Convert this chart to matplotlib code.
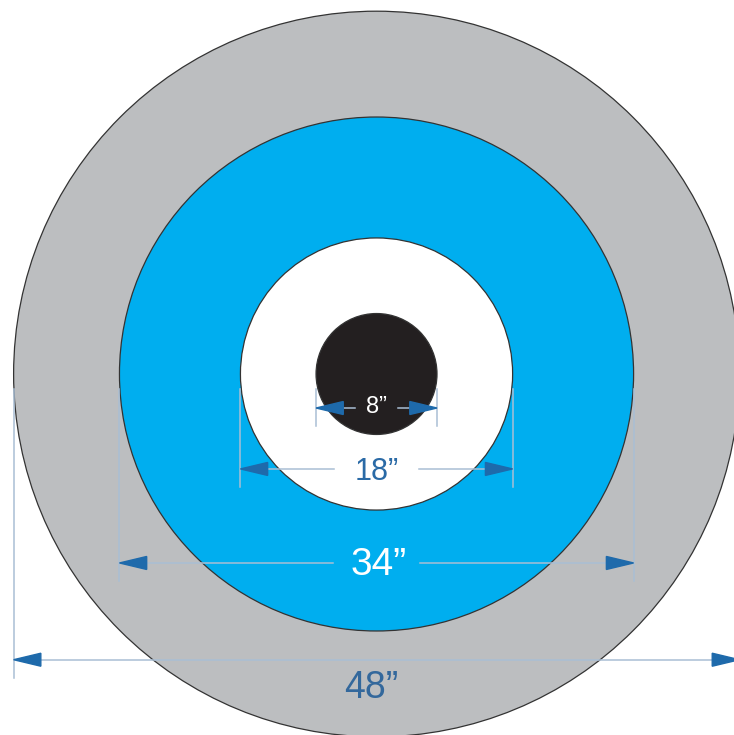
import matplotlib.pyplot as plt
from matplotlib.patches import Circle, Polygon

plt.rcParams['font.family'] = ['Liberation Sans', 'DejaVu Sans']

# ring diameters in inches, outer to inner
diameters = [48, 34, 18, 8]
fill_colors = ['#bcbec0', '#00aeef', '#ffffff', '#231f20']
labels = ['48\u201d', '34\u201d', '18\u201d', '8\u201d']
label_colors = ['#33689c', '#ffffff', '#2a6aa6', '#ffffff']

# layout (inches, centre of target at 0,0)
dim_y = [-18.9, -12.5, -6.28, -2.25]
text_x = [-0.35, 0.15, 0, 0]
text_y = [-21.45, -13.3, -7.02, -2.6]
text_size = [27, 28, 22, 17]
gap_half = [0, 2.9, 2.8, 1.45]

line_col = '#a9bed4'
arrow_col = '#1e6aab'
head_len = 1.8
head_w = 0.43

fig = plt.figure(figsize=(7.34, 7.35), dpi=100)
ax = fig.add_axes([0, 0, 1, 1])
ax.set_xlim(-24.9, 23.64)
ax.set_ylim(-23.88, 24.74)
ax.axis('off')

for d, c in zip(diameters, fill_colors):
    ax.add_patch(Circle((0, 0), d / 2, facecolor=c, edgecolor='#333333', lw=0.9, zorder=1))

for d, y, tx, ty, lab, lc, fs, g in zip(diameters, dim_y, text_x, text_y, labels,
                                        label_colors, text_size, gap_half):
    r = d / 2
    # extension lines
    for sx in (-1, 1):
        ax.plot([sx * r, sx * r], [-1.0, y - 1.2], color=line_col, lw=1.1, zorder=2)
    # dimension line (with gap for text)
    if g > 0:
        ax.plot([-r + head_len, -g], [y, y], color=line_col, lw=1.1, zorder=2)
        ax.plot([g, r - head_len], [y, y], color=line_col, lw=1.1, zorder=2)
    else:
        ax.plot([-r + head_len, r - head_len], [y, y], color=line_col, lw=1.1, zorder=2)
    # arrow heads
    ax.add_patch(Polygon([[-r, y], [-r + head_len, y + head_w], [-r + head_len, y - head_w]],
                         closed=True, color=arrow_col, zorder=3))
    ax.add_patch(Polygon([[r, y], [r - head_len, y + head_w], [r - head_len, y - head_w]],
                         closed=True, color=arrow_col, zorder=3))
    ax.text(tx, ty, lab, color=lc, fontsize=fs, ha='center', va='baseline', zorder=4)

fig.savefig('out.png', dpi=100)
